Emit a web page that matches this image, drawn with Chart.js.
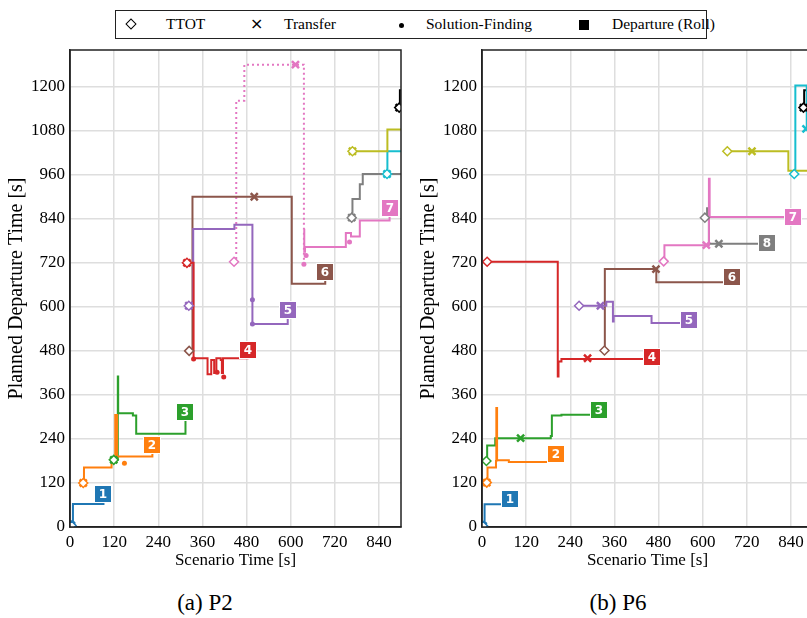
<!DOCTYPE html>
<html>
<head>
<meta charset="utf-8">
<title>Planned departure time</title>
<script src="https://cdn.jsdelivr.net/npm/chart.js@4.4.1/dist/chart.umd.min.js"></script>
<style>
  html, body { margin: 0; padding: 0; background: #fff; width: 807px; height: 618px; overflow: hidden; }
  body { position: relative; font-family: "Liberation Serif", serif; color: #000; }
  canvas { position: absolute; top: 0; }
  #chartP2 { left: 0; }
  #chartP6 { left: 412px; }
  .legend { position: absolute; left: 115px; top: 10px; width: 590px; height: 27px; border: 1px solid #222; }
  .legend .txt { position: absolute; top: 4px; font-size: 15.5px; white-space: nowrap; }
  .legend .sym { position: absolute; }
  .diamond { width: 6px; height: 6px; border: 1.5px solid #000; transform: rotate(45deg); top: 9px; }
  .cross { top: 3px; font-size: 16px; font-family: "DejaVu Sans", sans-serif; }
  .dot { width: 5px; height: 5px; border-radius: 50%; background: #000; top: 12px; }
  .square { width: 10px; height: 10px; background: #000; top: 9px; }
  .caption { position: absolute; top: 590px; width: 200px; text-align: center; font-size: 23px; }
</style>
</head>
<body>
<div class="legend">
  <div class="sym diamond" style="left:11px"></div><span class="txt" style="left:50px">TTOT</span>
  <span class="sym cross" style="left:134px">×</span><span class="txt" style="left:168px">Transfer</span>
  <div class="sym dot" style="left:283px"></div><span class="txt" style="left:310px">Solution-Finding</span>
  <div class="sym square" style="left:463px"></div><span class="txt" style="left:496px">Departure (Roll)</span>
</div>
<canvas id="chartP2" width="410" height="580"></canvas>
<canvas id="chartP6" width="410" height="580"></canvas>
<div class="caption" style="left:105px">(a) P2</div>
<div class="caption" style="left:518px">(b) P6</div>

<script>
// shared axis ticks (seconds)
const axisTicks = [0, 120, 240, 360, 480, 600, 720, 840, 960, 1080, 1200];
const aircraftLabels = ["1", "2", "3", "4", "5", "6", "7", "8", "9", "10", "11"];
const aircraftColors = ["#1f77b4", "#ff7f0e", "#2ca02c", "#d62728", "#9467bd", "#8c564b",
                        "#e377c2", "#7f7f7f", "#bcbd22", "#17becf", "#000000"];

// ---- P2: planned departure changes [scenario time, planned time] ----
const p2Paths = [
  [[4, 4], [8, 63]],
  [[36, 120], [38, 162], [113, 185], [123, 305], [128, 192]],
  [[119, 183], [130, 410], [131, 310], [171, 304], [180, 254]],
  [[318, 720], [336, 460], [374, 416], [384, 455], [392, 420], [398, 460], [410, 455], [413, 420], [416, 460]],
  [[323, 603], [335, 812], [447, 824], [496, 553]],
  [[324, 480], [333, 900], [603, 663]],
  [[636, 810], [637, 750], [639, 763], [750, 801], [764, 792], [788, 835]],
  [[766, 843], [768, 894], [788, 934], [796, 962]],
  [[768, 1024], [863, 1083]],
  [[862, 962], [863, 1024]],
  [[895, 1143], [897, 1190]]
];
// tentative plan of aircraft 7 before the transfer
const p2Tentative = [[446, 723], [452, 1162], [474, 1260], [636, 716]];
const p2Departure = [91, 224, 314, 483, 592, 694, 869, 962, 1083, 1024, 1190];
const p2Ttot = [[4, 4], [36, 120], [119, 183], [318, 720], [323, 603], [324, 480],
                [446, 723], [766, 843], [768, 1024], [862, 962], [895, 1143]];
const p2Transfer = [[[4, 4]], [[36, 120]], [[119, 183]], [[318, 720]], [[323, 603]], [[501, 900]],
                    [[613, 1260]], [[766, 843]], [[768, 1024]], [[862, 962]], [[895, 1143]]];
const p2Solve = [[[4, 4]], [[36, 120], [148, 174]], [[119, 183]],
                 [[318, 720], [336, 458], [400, 422], [418, 409]],
                 [[323, 603], [496, 619], [496, 553]], [],
                 [[636, 716], [642, 740], [760, 777]],
                 [[766, 843]], [[768, 1024]], [[862, 962]], [[895, 1143]]];

// ---- P6 ----
const p6Paths = [
  [[3, 3], [7, 62]],
  [[13, 121], [15, 162], [38, 180], [39, 324], [41, 182], [73, 177]],
  [[12, 180], [14, 222], [36, 242], [187, 248], [190, 304], [216, 306]],
  [[14, 723], [206, 410], [208, 451], [216, 458]],
  [[264, 603], [338, 614], [356, 560], [358, 575], [461, 556]],
  [[333, 481], [334, 703], [474, 667]],
  [[494, 724], [496, 768], [617, 949], [619, 845]],
  [[606, 843], [612, 869], [617, 772]],
  [[667, 1024], [833, 971]],
  [[849, 962], [852, 1203], [883, 1087]],
  [[874, 1143], [876, 1190]]
];
const p6Departure = [75, 200, 318, 463, 563, 680, 846, 774, 971, 1087, 1190];
const p6Ttot = [[3, 3], [13, 121], [12, 180], [14, 723], [264, 603], [333, 481],
                [494, 724], [606, 843], [667, 1024], [849, 962], [874, 1143]];
const p6Transfer = [[[3, 3]], [[13, 121]], [[105, 242]], [[287, 460]], [[322, 603]], [[473, 703]],
                    [[610, 768]], [[644, 772]], [[734, 1024]], [[881, 1085]], [[874, 1143]]];
const p6Solve = [[[3, 3]], [[13, 121]], [], [], [], [], [], [], [], [], [[874, 1143]]];

Chart.defaults.font.family = '"Liberation Serif", serif';
Chart.defaults.font.size = 16;
Chart.defaults.color = "#000";

const toXY = pts => pts.map(([x, y]) => ({ x, y }));

// numbered square at (departure, departure) where each path ends
function departureBoxes(departures) {
  return {
    id: "departureBoxes",
    afterDatasetsDraw(chart) {
      const { ctx, chartArea: a, scales: { x, y } } = chart;
      ctx.save();
      ctx.beginPath();
      ctx.rect(a.left, a.top, a.right - a.left, a.bottom - a.top);
      ctx.clip();
      departures.forEach((d, i) => {
        if (d > x.max) return;
        const px = Math.round(x.getPixelForValue(d));
        const py = Math.round(y.getPixelForValue(d));
        ctx.fillStyle = aircraftColors[i];
        ctx.fillRect(px - 8, py - 8, 16, 16);
        ctx.strokeStyle = "#fff";
        ctx.lineWidth = 1;
        ctx.strokeRect(px - 8.5, py - 8.5, 17, 17);
        ctx.fillStyle = "#fff";
        ctx.font = 'bold 12px "DejaVu Sans"';
        ctx.textAlign = "center";
        ctx.textBaseline = "middle";
        ctx.fillText(aircraftLabels[i], px, py + 1);
      });
      ctx.restore();
    }
  };
}

const frame = {
  id: "frame",
  afterDraw(chart) {
    const { ctx, chartArea: a } = chart;
    ctx.save();
    ctx.strokeStyle = "#222";
    ctx.lineWidth = 1.5;
    ctx.strokeRect(a.left, a.top, a.right - a.left, a.bottom - a.top);
    ctx.restore();
  }
};

function markerSet(points, color, kind) {
  const base = { type: "line", data: toXY(points), showLine: false, order: 1,
                 borderColor: color, pointHoverRadius: 0 };
  if (kind === "ttot") return { ...base, pointStyle: "rectRot", pointRadius: 4.5,
                                pointBackgroundColor: "#fff", pointBorderColor: color, pointBorderWidth: 1.5 };
  if (kind === "transfer") return { ...base, pointStyle: "crossRot", pointRadius: 5,
                                    pointBorderColor: color, pointBorderWidth: 2.5 };
  return { ...base, pointStyle: "circle", pointRadius: 2.5,
           pointBackgroundColor: color, pointBorderWidth: 0 };
}

function buildDatasets(paths, departures, ttot, transfer, solve, tentative) {
  const sets = [];
  paths.forEach((path, i) => {
    const c = aircraftColors[i];
    // each value holds until the next change: horizontal run, then a vertical jump
    sets.push({
      type: "line",
      data: toXY(path.concat([[departures[i], departures[i]]])),
      stepped: "before",
      borderColor: c,
      borderWidth: 2,
      pointRadius: 0,
      fill: false,
      order: 2
    });
    if (tentative && i === 6) {
      sets.push({
        type: "line",
        data: toXY(tentative),
        stepped: "before",
        borderColor: c,
        borderWidth: 2,
        borderDash: [2, 3],
        pointRadius: 0,
        fill: false,
        order: 2
      });
    }
    sets.push(markerSet([ttot[i]], c, "ttot"));
    if (transfer[i].length) sets.push(markerSet(transfer[i], c, "transfer"));
    if (solve[i].length) sets.push(markerSet(solve[i], c, "solve"));
  });
  return sets;
}

function makeChart(id, datasets, departures) {
  const fixedTicks = scale => {
    scale.ticks = axisTicks.filter(v => v <= scale.max).map(v => ({ value: v }));
  };
  new Chart(document.getElementById(id), {
    type: "line",
    data: { datasets },
    options: {
      responsive: false,
      animation: false,
      devicePixelRatio: 1,
      layout: { padding: { top: 50, right: 9, left: 0, bottom: 0 } },
      plugins: { legend: { display: false }, tooltip: { enabled: false } },
      scales: {
        x: {
          type: "linear",
          min: 0,
          max: 900,
          afterBuildTicks: fixedTicks,
          afterFit: scale => { scale.height = 53; },
          grid: { color: "#dedede", lineWidth: 1.5, drawTicks: false },
          border: { color: "#222", width: 1.5 },
          ticks: { padding: 5, maxRotation: 0, font: { size: 17 }, callback: v => String(v) },
          title: { display: true, text: "Scenario Time [s]", font: { size: 17 },
                   padding: { top: 0, bottom: 9 } }
        },
        y: {
          type: "linear",
          min: 0,
          max: 1300,
          afterBuildTicks: fixedTicks,
          afterFit: scale => { scale.width = 70; },
          grid: { color: "#dedede", lineWidth: 1.5, drawTicks: false },
          border: { color: "#222", width: 1.5 },
          ticks: { padding: 5, font: { size: 17 }, callback: v => String(v) },
          title: { display: true, text: "Planned Departure Time [s]", font: { size: 20 },
                   padding: { top: 5, bottom: 0 } }
        }
      }
    },
    plugins: [departureBoxes(departures), frame]
  });
}

makeChart("chartP2", buildDatasets(p2Paths, p2Departure, p2Ttot, p2Transfer, p2Solve, p2Tentative), p2Departure);
makeChart("chartP6", buildDatasets(p6Paths, p6Departure, p6Ttot, p6Transfer, p6Solve, null), p6Departure);
</script>
</body>
</html>
